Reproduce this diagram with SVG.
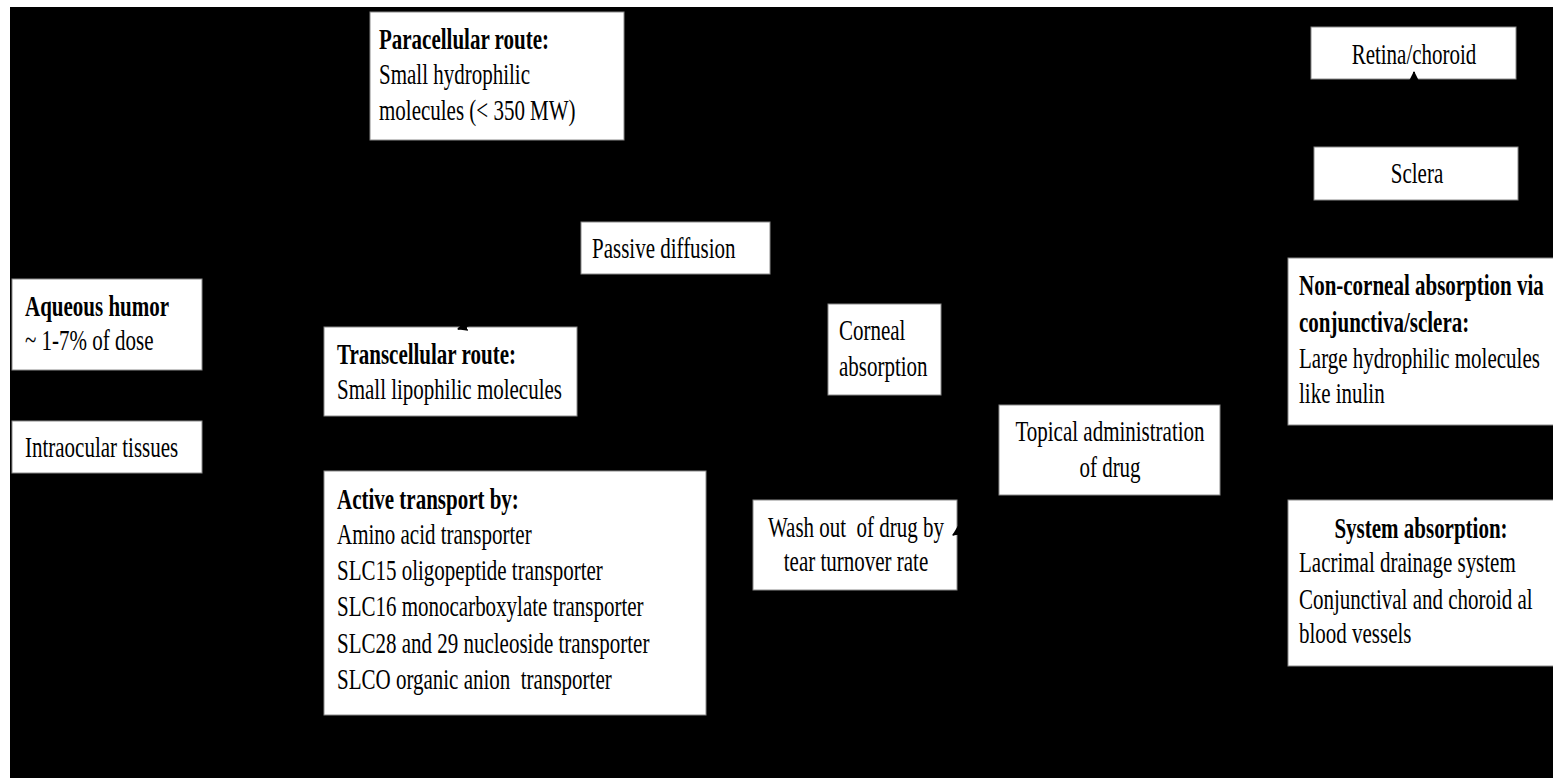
<svg xmlns="http://www.w3.org/2000/svg" width="1553" height="778" viewBox="0 0 1553 778">
<style>
.bx{fill:#fff;stroke:#8a8a8a;stroke-width:1}
text{font-family:"Liberation Serif","Times New Roman",serif;font-size:30px;fill:#000}
.b{font-weight:bold}
.m{text-anchor:middle}
.c{stroke:#000;stroke-width:2;fill:none}
</style>
<defs>
<marker id="ah" viewBox="0 0 10 10" refX="9" refY="5" markerWidth="5" markerHeight="5" orient="auto" markerUnits="strokeWidth">
<path d="M0,0 L10,5 L0,10 z" fill="#000"/>
</marker>
</defs>
<rect x="0" y="0" width="1553" height="778" fill="#fff"/>
<rect x="10" y="7" width="1543" height="771" fill="#000"/>

<g id="paracellular"><rect class="bx" x="370" y="12" width="254" height="128"/>
<text class="b" transform="matrix(0.7 0 0 1 379 49)">Paracellular route:</text>
<text transform="matrix(0.7 0 0 1 379 84)">Small hydrophilic</text>
<text transform="matrix(0.7 0 0 1 379 120)">molecules (&lt; 350 MW)</text></g>

<g id="retina"><rect class="bx" x="1311" y="27" width="205" height="52"/>
<text class="m" transform="matrix(0.7 0 0 1 1414 64)">Retina/choroid</text></g>

<g id="sclera"><rect class="bx" x="1314" y="147" width="204" height="53"/>
<text class="m" transform="matrix(0.7 0 0 1 1417 183)">Sclera</text></g>

<g id="passive"><rect class="bx" x="581" y="222" width="189" height="52"/>
<text transform="matrix(0.7 0 0 1 592 258)">Passive diffusion</text></g>

<g id="aqueous"><rect class="bx" x="12" y="279" width="190" height="91"/>
<text class="b" transform="matrix(0.7 0 0 1 25 316)">Aqueous humor</text>
<text transform="matrix(0.7 0 0 1 25 350)">~ 1-7% of dose</text></g>

<g id="transcellular"><rect class="bx" x="324" y="327" width="253" height="89"/>
<text class="b" transform="matrix(0.7 0 0 1 337 364)">Transcellular route:</text>
<text transform="matrix(0.7 0 0 1 337 399)">Small lipophilic molecules</text></g>

<g id="corneal"><rect class="bx" x="828" y="304" width="113" height="91"/>
<text transform="matrix(0.7 0 0 1 839 340)">Corneal</text>
<text transform="matrix(0.7 0 0 1 839 376)">absorption</text></g>

<g id="noncorneal"><rect class="bx" x="1288" y="258" width="270" height="167"/>
<text class="b" transform="matrix(0.7 0 0 1 1299 295)">Non-corneal absorption via</text>
<text class="b" transform="matrix(0.7 0 0 1 1299 332)">conjunctiva/sclera:</text>
<text transform="matrix(0.7 0 0 1 1299 368)">Large hydrophilic molecules</text>
<text transform="matrix(0.7 0 0 1 1299 403)">like inulin</text></g>

<g id="intraocular"><rect class="bx" x="12" y="421" width="190" height="52"/>
<text transform="matrix(0.7 0 0 1 25 457)">Intraocular tissues</text></g>

<g id="topical"><rect class="bx" x="999" y="405" width="221" height="90"/>
<text class="m" transform="matrix(0.7 0 0 1 1110 441)">Topical administration</text>
<text class="m" transform="matrix(0.7 0 0 1 1110 477)">of drug</text></g>

<g id="active"><rect class="bx" x="324" y="471" width="382" height="244"/>
<text class="b" transform="matrix(0.7 0 0 1 337 509)">Active transport by:</text>
<text transform="matrix(0.7 0 0 1 337 544)">Amino acid transporter</text>
<text transform="matrix(0.7 0 0 1 337 580)">SLC15 oligopeptide transporter</text>
<text transform="matrix(0.7 0 0 1 337 616)">SLC16 monocarboxylate transporter</text>
<text transform="matrix(0.7 0 0 1 337 653)">SLC28 and 29 nucleoside transporter</text>
<text xml:space="preserve" transform="matrix(0.7 0 0 1 337 689)">SLCO organic anion  transporter</text></g>

<g id="washout"><rect class="bx" x="753" y="500" width="204" height="90"/>
<text class="m" xml:space="preserve" transform="matrix(0.7 0 0 1 856 537)">Wash out  of drug by</text>
<text class="m" transform="matrix(0.7 0 0 1 856 571)">tear turnover rate</text></g>

<g id="system"><rect class="bx" x="1288" y="500" width="270" height="166"/>
<text class="b m" transform="matrix(0.7 0 0 1 1421 538)">System absorption:</text>
<text transform="matrix(0.7 0 0 1 1299 572)">Lacrimal drainage system</text>
<text transform="matrix(0.7 0 0 1 1299 609)">Conjunctival and choroid al</text>
<text transform="matrix(0.7 0 0 1 1299 643)">blood vessels</text></g>

<g id="connectors">
<line class="c" x1="1414" y1="144" x2="1414" y2="72" marker-end="url(#ah)"/>
<line class="c" x1="600" y1="278" x2="458" y2="329" marker-end="url(#ah)"/>
<line class="c" x1="1010" y1="498" x2="953" y2="535" marker-end="url(#ah)"/>
</g>
</svg>
